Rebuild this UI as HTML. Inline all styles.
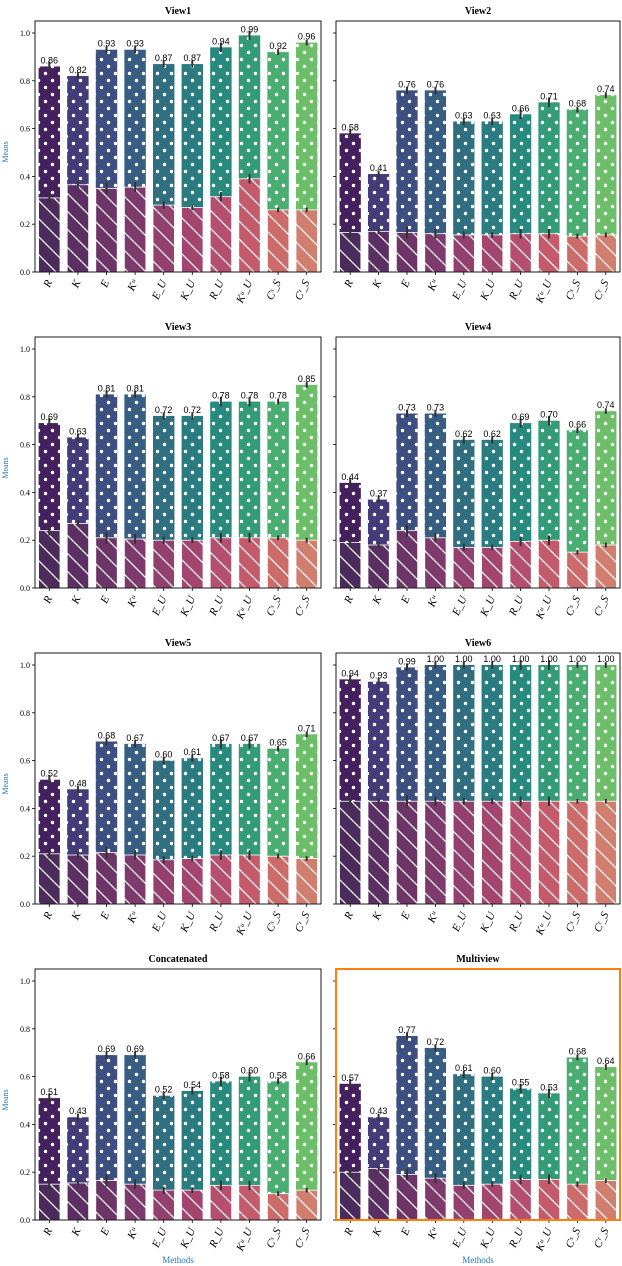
<!DOCTYPE html>
<html><head><meta charset="utf-8">
<style>
body{margin:0;background:#fff;}
svg{display:block;font-family:"Liberation Serif",serif;}
</style></head>
<body>
<svg id="chart" width="622" height="1266" viewBox="0 0 622 1266">
<defs>
<pattern id="dots" width="14" height="14" patternUnits="userSpaceOnUse">
<circle cx="3.5" cy="3.5" r="1.7" fill="#fff"/><circle cx="10.5" cy="10.5" r="1.7" fill="#fff"/>
</pattern>
<pattern id="hatch" width="18" height="18" patternUnits="userSpaceOnUse">
<path d="M-2,-2 L20,20 M-2,16 L2,20 M16,-2 L20,2" stroke="#fff" stroke-width="1.2"/>
</pattern>
</defs>
</svg>
<script>
const titles=["View1","View2","View3","View4","View5","View6","Concatenated","Multiview"];
const methods=["R","K","E","Kᵘ","E_U","K_U","R_U","Kᵘ_U","Cˢ_S","Cʳ_S"];
const top1=[0.86,0.82,0.93,0.93,0.87,0.87,0.94,0.99,0.92,0.96];
const bot1=[0.31,0.365,0.35,0.355,0.28,0.27,0.315,0.39,0.26,0.26];
const top2=[0.58,0.41,0.76,0.76,0.63,0.63,0.66,0.71,0.68,0.74];
const bot2=[0.165,0.17,0.165,0.16,0.155,0.155,0.16,0.16,0.15,0.155];
const top3=[0.69,0.63,0.81,0.81,0.72,0.72,0.78,0.78,0.78,0.85];
const bot3=[0.24,0.27,0.21,0.205,0.2,0.2,0.21,0.21,0.21,0.2];
const top4=[0.44,0.37,0.73,0.73,0.62,0.62,0.69,0.70,0.66,0.74];
const bot4=[0.19,0.18,0.24,0.21,0.17,0.17,0.195,0.2,0.15,0.18];
const top5=[0.52,0.48,0.68,0.67,0.60,0.61,0.67,0.67,0.65,0.71];
const bot5=[0.21,0.205,0.215,0.205,0.185,0.19,0.205,0.205,0.2,0.19];
const top6=[0.94,0.93,0.99,1.00,1.00,1.00,1.00,1.00,1.00,1.00];
const bot6=[0.43,0.43,0.43,0.43,0.43,0.43,0.43,0.43,0.43,0.43];
const top7=[0.51,0.43,0.69,0.69,0.52,0.54,0.58,0.60,0.58,0.66];
const bot7=[0.15,0.155,0.165,0.15,0.125,0.125,0.145,0.145,0.11,0.125];
const top8=[0.57,0.43,0.77,0.72,0.61,0.60,0.55,0.53,0.68,0.64];
const bot8=[0.2,0.215,0.19,0.175,0.145,0.15,0.17,0.17,0.15,0.165];
const errTop=[0.02,0.015,0.015,0.015,0.015,0.015,0.02,0.02,0.012,0.012];
const errBot=[0.02,0.012,0.025,0.02,0.015,0.012,0.02,0.02,0.01,0.01];
const yTicks=[0.0,0.2,0.4,0.6,0.8,1.0];
const tops=[top1,top2,top3,top4,top5,top6,top7,top8];
const bots=[bot1,bot2,bot3,bot4,bot5,bot6,bot7,bot8];
const topCol=["#45205f","#433c78","#3d4f80","#375e82","#2f6f80","#2a7c80","#288a7e","#339b78","#4aae72","#6cbe68"];
const botCol=["#4a2b5c","#5b2f63","#6d3468","#7e396d","#93406f","#a4456f","#b64e6d","#c55a6b","#cd6a6a","#d27e6f"];
const NS="http://www.w3.org/2000/svg";
const svg=document.getElementById('chart');
function mk(t,a,p){const e=document.createElementNS(NS,t);for(const k in a)e.setAttribute(k,a[k]);(p||svg).appendChild(e);return e;}
const colX=[[35,321],[336,620]];
const rowBase=[272,588,904,1220];
for(let pi=0;pi<8;pi++){
  const col=pi%2,row=Math.floor(pi/2);
  const [x0,x1]=colX[col];const y0=rowBase[row];
  const yS=v=>y0-v*239;
  const step=(x1-x0)/10;
  const xS=i=>x0+step*(i+0.5);
  const g=mk('g',{});
  
  
  const t=mk('text',{x:(x0+x1)/2,y:y0-258,'text-anchor':'middle','font-size':'10','font-weight':'bold'},g);
  t.textContent=titles[pi];
  
  
  const top=tops[pi],bot=bots[pi];
  for(let i=0;i<10;i++){
    const bx=xS(i)-step*0.375,bw=step*0.75;
    const r1=mk('rect',{x:bx,y:yS(top[i]),width:bw,height:yS(0)-yS(top[i]),fill:topCol[i]},g);
    
    
    mk('rect',{x:bx,y:yS(top[i]),width:bw,height:yS(0)-yS(top[i]),fill:'url(#dots)'},g);
    const r2=mk('rect',{x:bx,y:yS(bot[i]),width:bw,height:yS(0)-yS(bot[i]),fill:botCol[i],stroke:'#fff','stroke-width':'0.8'},g);
    
    
    mk('rect',{x:bx,y:yS(bot[i]),width:bw,height:yS(0)-yS(bot[i]),fill:'url(#hatch)'},g);
    mk('line',{x1:xS(i),x2:xS(i),y1:yS(top[i]+errTop[i]),y2:yS(top[i]-errTop[i]),stroke:'#333','stroke-width':'2'},g);
    mk('line',{x1:xS(i),x2:xS(i),y1:yS(bot[i]+errBot[i]),y2:yS(bot[i]-errBot[i]),stroke:'#333','stroke-width':'2'},g);
    const v=mk('text',{x:xS(i),y:yS(top[i])-3,'text-anchor':'middle','font-size':'9','font-family':'Liberation Sans, sans-serif'},g);
    v.textContent=top[i].toFixed(2);
    
    
    const lb=mk('text',{x:xS(i)+3,y:y0+10,'text-anchor':'end','font-size':'11','font-style':'italic','transform':`rotate(-65 ${xS(i)+3} ${y0+10})`},g);
    lb.textContent=methods[i];
    
    
    mk('line',{x1:xS(i),x2:xS(i),y1:y0,y2:y0+3,stroke:'#000','stroke-width':'0.8'},g);
  }
  yTicks.forEach(v=>{
    mk('line',{x1:x0-3,x2:x0,y1:yS(v),y2:yS(v),stroke:'#000','stroke-width':'0.8'},g);
    if(col===0){const tl=mk('text',{x:x0-5,y:yS(v)+3,'text-anchor':'end','font-size':'8'},g);
      tl.textContent=v.toFixed(1);
      
      }
  });
  const fr=mk('rect',{x:x0,y:y0-251,width:x1-x0,height:251,fill:'none',stroke:pi===7?'#ff7f0e':'#000','stroke-width':pi===7?'2':'0.9'},g);
  
  
  if(col===0){const yl=mk('text',{x:8,y:y0-120,'text-anchor':'middle','font-size':'8',fill:'#1f77b4',transform:`rotate(-90 8 ${y0-120})`},g);
    yl.textContent='Means';
    
    }
  if(row===3){const xl=mk('text',{x:(x0+x1)/2,y:1263,'text-anchor':'middle','font-size':'9',fill:'#1f77b4'},g);
    xl.textContent='Methods';
    
    }
}
</script>
</body></html>
